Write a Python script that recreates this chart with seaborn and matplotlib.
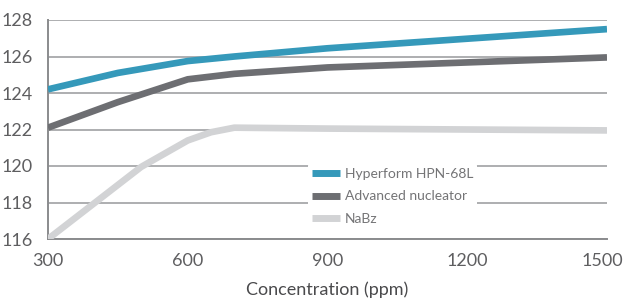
import matplotlib
matplotlib.use("Agg")
import matplotlib.pyplot as plt
import matplotlib.transforms as mtransforms
import seaborn as sns
import pandas as pd

conc_hyper = [300, 450, 600, 700, 900, 1500]
val_hyper = [124.2, 125.1, 125.75, 126.0, 126.45, 127.5]
conc_adv = [300, 450, 600, 700, 900, 1500]
val_adv = [122.1, 123.5, 124.75, 125.05, 125.4, 125.95]
conc_nabz = [300, 500, 600, 650, 700, 900, 1500]
val_nabz = [116.0, 119.95, 121.4, 121.85, 122.1, 122.05, 121.95]
series_names = ["Hyperform HPN-68L", "Advanced nucleator", "NaBz"]
x_ticks = [300, 600, 900, 1200, 1500]
y_ticks = [116, 118, 120, 122, 124, 126, 128]
colors = ["#3599ba", "#6d6e72", "#d2d3d5"]

rows = []
for name, xs, ys in zip(series_names, [conc_hyper, conc_adv, conc_nabz], [val_hyper, val_adv, val_nabz]):
    for x, y in zip(xs, ys):
        rows.append({"Concentration": x, "Value": y, "Series": name})
df = pd.DataFrame(rows)

sns.set_style("white")
plt.rcParams["font.family"] = ["Lato", "DejaVu Sans"]

fig = plt.figure(figsize=(6.26, 3.06), dpi=100)
ax = fig.add_axes([48/626, 1-239/306, (607-48)/626, (239-20)/306])

sns.lineplot(data=df, x="Concentration", y="Value", hue="Series", hue_order=series_names,
             palette=colors, linewidth=4.8, ax=ax, sort=True, legend=True,
             solid_joinstyle="round", solid_capstyle="butt", zorder=3)

ax.set_xlim(300, 1500)
ax.set_ylim(116, 128)
ax.set_xticks(x_ticks)
ax.set_yticks(y_ticks)
ax.set_xticklabels([str(t) for t in x_ticks], fontsize=13, color="#5e5e60")
ax.set_yticklabels([str(t) for t in y_ticks], fontsize=13, color="#5e5e60")
ax.grid(axis="y", color="#a7a8aa", linewidth=1.3, zorder=1)
ax.grid(axis="x", visible=False)
ax.set_axisbelow(True)
for s in ["top", "right"]:
    ax.spines[s].set_visible(False)
for s in ["left", "bottom"]:
    ax.spines[s].set_color("#8a8b8d")
    ax.spines[s].set_linewidth(1.4)
ax.tick_params(axis="y", length=0, pad=11)
ax.tick_params(axis="x", length=5, width=1.8, color="#8a8b8d", direction="out", pad=5)
labs = ax.get_xticklabels()
labs[-1].set_transform(labs[-1].get_transform() + mtransforms.ScaledTranslation(-5/100, 0, fig.dpi_scale_trans))
ax.set_xlabel("Concentration (ppm)", fontsize=13, color="#4a4a4c", labelpad=9)
ax.set_ylabel("")

leg = ax.legend(loc="upper left", bbox_to_anchor=(0.465, 0.345), frameon=True, fontsize=10,
                handlelength=2.0, handletextpad=0.35, labelspacing=0.78, borderpad=0.3,
                borderaxespad=0)
leg.get_frame().set_facecolor("white")
leg.get_frame().set_edgecolor("none")
leg.get_frame().set_alpha(1)
for line in leg.get_lines():
    line.set_linewidth(5)
    line.set_solid_capstyle("butt")
for t in leg.get_texts():
    t.set_color("#747476")

fig.savefig("out.png", dpi=100)
